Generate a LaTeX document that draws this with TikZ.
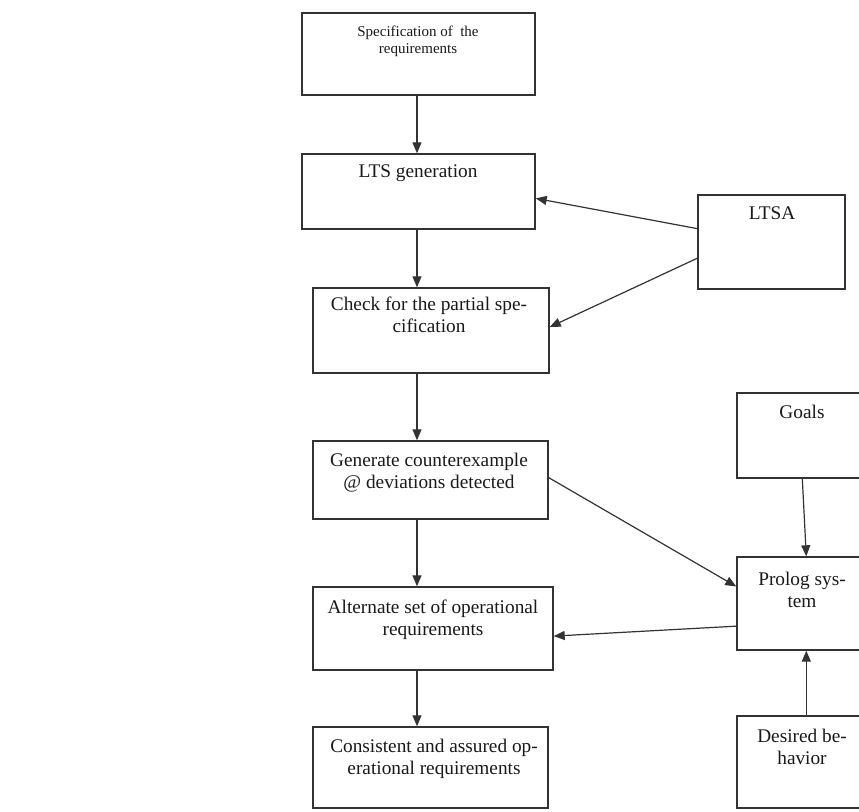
\documentclass[tikz,border=0pt]{standalone}
\usepackage{fontspec}
\setmainfont{Liberation Serif}
\usetikzlibrary{arrows.meta,calc}
\begin{document}
\begin{tikzpicture}[x=1pt,y=-1pt,
  box/.style={draw=black!80, line width=1.4pt, rectangle, inner sep=0pt},
  txt/.style={anchor=north, inner sep=0pt, align=center, font=\fontsize{19.3}{22}\selectfont, text=black!90},
  stxt/.style={anchor=north, inner sep=0pt, align=center, font=\fontsize{15}{17}\selectfont, text=black!90},
  arr/.style={draw=black!80, line width=1.2pt, -{Triangle[length=11pt,width=9pt]}}]
\path[use as bounding box] (0,0) rectangle (859,811);
% boxes
\node[box, minimum width=233pt, minimum height=82pt] (spec) at (418.5,54) {};
\node[box, minimum width=233pt, minimum height=75pt] (lts) at (418.5,191.5) {};
\node[box, minimum width=236pt, minimum height=85pt] (check) at (431,330.5) {};
\node[box, minimum width=235pt, minimum height=78pt] (gen) at (430.5,480) {};
\node[box, minimum width=240pt, minimum height=83pt] (alt) at (433,628.5) {};
\node[box, minimum width=235pt, minimum height=81pt] (cons) at (430.5,767.5) {};
\node[box, minimum width=147pt, minimum height=94pt] (ltsa) at (771.5,242) {};
\node[box, minimum width=129pt, minimum height=85pt] (goals) at (801.5,435.5) {};
\node[box, minimum width=129pt, minimum height=93pt] (prolog) at (801.5,603.5) {};
\node[box, minimum width=129pt, minimum height=92pt] (desired) at (801.5,762) {};
% texts
\node[stxt] (specT) at (418,26) {Specification of\ \ the\\requirements};
\node[txt] (ltsT) at (418,165) {LTS generation};
\node[txt] (checkT) at (429,297) {Check for the partial spe-\\cification};
\node[txt] (genT) at (429,453) {Generate counterexample\\@ deviations detected};
\node[txt] (altT) at (433,600) {Alternate set of operational\\requirements};
\node[txt] (consT) at (434,739) {Consistent and assured op-\\erational requirements};
\node[txt] (ltsaT) at (772,207) {LTSA};
\node[txt] (goalsT) at (802,405) {Goals};
\node[txt] (prologT) at (802,572) {Prolog sys-\\tem};
\node[txt] (desiredT) at (802,729) {Desired be-\\havior};
% vertical flow
\coordinate (colx) at (417,0);
\draw[arr] (colx |- spec.south) -- (colx |- lts.north);
\draw[arr] (colx |- lts.south) -- (colx |- check.north);
\draw[arr] (colx |- check.south) -- (colx |- gen.north);
\draw[arr] (colx |- gen.south) -- (colx |- alt.north);
\draw[arr] (colx |- alt.south) -- (colx |- cons.north);
% LTSA arrows
\draw[arr] ($(ltsa.north west)!0.36!(ltsa.south west)$) -- ($(lts.north east)!0.59!(lts.south east)$);
\draw[arr] ($(ltsa.north west)!0.67!(ltsa.south west)$) -- ($(check.north east)!0.46!(check.south east)$);
% Prolog arrows
\draw[arr] ($(gen.north east)!0.47!(gen.south east)$) -- ($(prolog.north west)!0.32!(prolog.south west)$);
\draw[arr] ($(goals.south west)+(66,0)$) -- ($(prolog.north west)+(70,0)$);
\draw[arr] ($(prolog.north west)!0.74!(prolog.south west)$) -- ($(alt.north east)!0.59!(alt.south east)$);
\draw[arr] ($(desired.north west)+(70,0)$) -- ($(prolog.south west)+(70,0)$);
\end{tikzpicture}
\end{document}
